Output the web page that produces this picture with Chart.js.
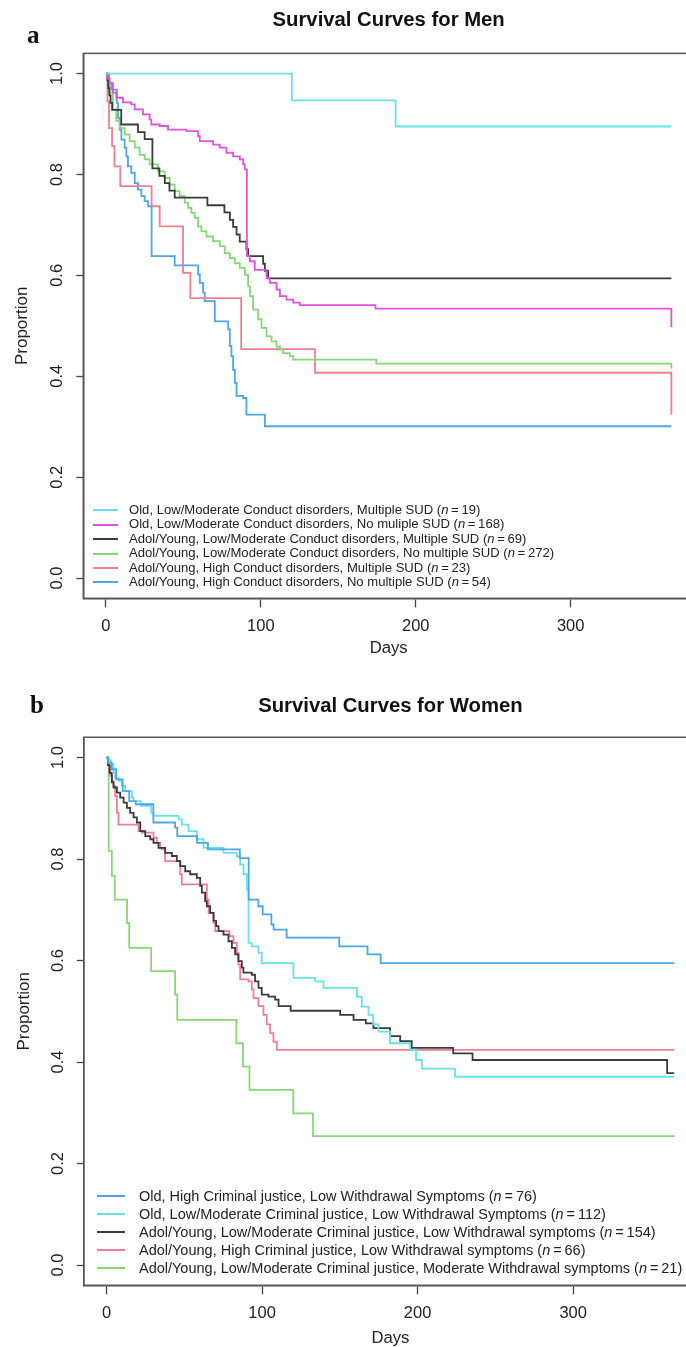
<!DOCTYPE html>
<html>
<head>
<meta charset="utf-8">
<script src="https://cdn.jsdelivr.net/npm/chart.js@4.4.1/dist/chart.umd.min.js"></script>
<style>
  html, body { margin: 0; padding: 0; background: #fff; }
  body { width: 686px; height: 1347px; overflow: hidden; position: relative; font-family: "Liberation Sans", Arial, sans-serif; }
  .panel { position: absolute; left: 0; width: 686px; overflow: hidden; }
  .panel canvas { display: block; }
  .tag { position: absolute; font-family: "Liberation Serif", "Times New Roman", serif; font-weight: bold; font-size: 25px; line-height: 25px; color: #111; }
  .legend { position: absolute; color: #222; white-space: nowrap; }
  .legend .row { display: flex; align-items: center; }
  .legend .key { display: inline-block; height: 0; border-top: 2px solid; flex: none; }
</style>
</head>
<body>
<div class="panel" style="top:0;height:672px"><canvas id="menChart" width="694" height="672"></canvas></div>
<div class="panel" style="top:680px;height:667px"><canvas id="womenChart" width="697" height="680"></canvas></div>
<div class="tag" style="left:27px;top:22px">a</div>
<div class="tag" style="left:30px;top:692px">b</div>
<div class="legend" id="menLegend" style="left:93px;top:503px;font-size:13.1px"></div>
<div class="legend" id="womenLegend" style="left:97px;top:1187px;font-size:14.5px"></div>
<script>
// ---- panel a : men ----
const menLabels = [
  'Old, Low/Moderate Conduct disorders, Multiple SUD',
  'Old, Low/Moderate Conduct disorders, No muliple SUD',
  'Adol/Young, Low/Moderate Conduct disorders, Multiple SUD',
  'Adol/Young, Low/Moderate Conduct disorders, No multiple SUD',
  'Adol/Young, High Conduct disorders, Multiple SUD',
  'Adol/Young, High Conduct disorders, No multiple SUD'
];
const menN = [19, 168, 69, 272, 23, 54];

const menOldMultiDays = [0, 120, 187, 365];
const menOldMultiSurv = [1, 0.947, 0.895, 0.895];

const menOldNoMultiDays = [0, 0.9, 2.4, 4.5, 6.7, 11, 16.4, 18.6, 23.9, 28.2, 29.3, 34.7, 40.1, 52, 59.5, 60.6, 69.2, 73.5, 77.8, 82.1, 86.4, 88.6, 89.6, 91, 92.9, 96.1, 103.7, 105.8, 110.1, 112.3, 116.6, 120.9, 125.2, 174, 365];
const menOldNoMultiSurv = [1, 0.99, 0.981, 0.962, 0.952, 0.943, 0.939, 0.929, 0.919, 0.909, 0.899, 0.896, 0.889, 0.886, 0.876, 0.866, 0.859, 0.853, 0.843, 0.836, 0.83, 0.82, 0.81, 0.638, 0.628, 0.611, 0.595, 0.585, 0.572, 0.559, 0.552, 0.546, 0.541, 0.534, 0.497];

const menYoungMultiDays = [0, 1, 1.5, 2.2, 3, 4, 9.9, 20.7, 25, 30, 34.5, 38, 41, 44.4, 65.5, 76.5, 80, 82.1, 84.3, 86.4, 90.7, 91.8, 101.5, 102.6, 104.7, 365];
const menYoungMultiSurv = [1, 0.986, 0.971, 0.957, 0.942, 0.928, 0.899, 0.884, 0.87, 0.812, 0.797, 0.783, 0.768, 0.754, 0.739, 0.725, 0.71, 0.696, 0.681, 0.667, 0.652, 0.638, 0.623, 0.609, 0.594, 0.594];

const menYoungNoMultiDays = [0, 0.9, 2.4, 4.5, 6.7, 8.9, 12.1, 15.3, 18.6, 21.8, 25, 28.2, 33.6, 37.9, 41.2, 44.4, 47.6, 50.9, 53, 55.2, 57.3, 59.5, 61.6, 64.9, 69.2, 73.5, 76.7, 80, 83.2, 86.4, 89.7, 91.8, 93, 95, 98.3, 100.4, 103.7, 106.9, 110.1, 112.3, 114.4, 118.7, 120.9, 174.5, 365];
const menYoungNoMultiSurv = [1, 0.985, 0.962, 0.929, 0.906, 0.892, 0.879, 0.866, 0.853, 0.839, 0.83, 0.82, 0.806, 0.793, 0.78, 0.767, 0.757, 0.744, 0.734, 0.724, 0.714, 0.697, 0.687, 0.677, 0.668, 0.658, 0.644, 0.634, 0.624, 0.615, 0.601, 0.578, 0.559, 0.532, 0.513, 0.496, 0.479, 0.469, 0.459, 0.453, 0.446, 0.44, 0.433, 0.425, 0.415];

const menHighMultiDays = [0, 1, 2, 4, 5.5, 9.3, 29.5, 34.7, 49.8, 54.5, 87.3, 135, 365];
const menHighMultiSurv = [1, 0.945, 0.892, 0.856, 0.816, 0.777, 0.737, 0.697, 0.605, 0.555, 0.454, 0.407, 0.324];

const menHighNoMultiDays = [0, 2, 3.5, 7.1, 7.8, 8.9, 10, 12.1, 13.2, 14.2, 16.4, 18.6, 20.7, 22.9, 25, 27.2, 29.5, 44.4, 59.5, 60.6, 62.7, 63.8, 70.3, 78.9, 80, 81, 82.1, 83.2, 84.3, 88.6, 90.7, 102.6, 365];
const menHighNoMultiSurv = [1, 0.981, 0.968, 0.942, 0.912, 0.889, 0.869, 0.853, 0.836, 0.816, 0.803, 0.783, 0.77, 0.757, 0.747, 0.737, 0.638, 0.62, 0.602, 0.585, 0.566, 0.549, 0.509, 0.493, 0.46, 0.44, 0.413, 0.387, 0.361, 0.357, 0.324, 0.301, 0.301];

const menDays = [menOldMultiDays, menOldNoMultiDays, menYoungMultiDays, menYoungNoMultiDays, menHighMultiDays, menHighNoMultiDays];
const menSurv = [menOldMultiSurv, menOldNoMultiSurv, menYoungMultiSurv, menYoungNoMultiSurv, menHighMultiSurv, menHighNoMultiSurv];

// ---- panel b : women ----
const womenLabels = [
  'Old, High Criminal justice, Low Withdrawal Symptoms',
  'Old, Low/Moderate Criminal justice, Low Withdrawal Symptoms',
  'Adol/Young, Low/Moderate Criminal justice, Low Withdrawal symptoms',
  'Adol/Young, High Criminal justice, Low Withdrawal symptoms',
  'Adol/Young, Low/Moderate Criminal justice, Moderate Withdrawal symptoms'
];
const womenN = [76, 112, 154, 66, 21];

const womenOldHighDays = [0, 1, 3.4, 6.2, 10.4, 14.6, 18.8, 30.1, 44.1, 45.5, 58.2, 65.2, 85.7, 91.4, 97.6, 100.4, 106, 107.4, 115.8, 149.6, 167.8, 176.3, 365];
const womenOldHighSurv = [1, 0.99, 0.977, 0.957, 0.934, 0.914, 0.908, 0.872, 0.862, 0.845, 0.832, 0.819, 0.802, 0.72, 0.707, 0.691, 0.671, 0.661, 0.645, 0.628, 0.612, 0.595, 0.595];

const womenOldLowDays = [0, 1, 2.8, 4.5, 5.6, 7.7, 9.9, 12, 16.3, 17.4, 22, 28.7, 30.2, 46.3, 48.4, 52.7, 58.1, 62.4, 75.2, 83.8, 85.9, 88.1, 90.2, 91.3, 93.4, 97.7, 99.8, 120.2, 134.1, 139.5, 161, 164.1, 168.4, 171.5, 174.8, 182.3, 195.2, 199, 202.7, 224, 365];
const womenOldLowSurv = [1, 0.995, 0.987, 0.97, 0.96, 0.954, 0.944, 0.934, 0.921, 0.914, 0.905, 0.891, 0.885, 0.878, 0.868, 0.855, 0.839, 0.822, 0.812, 0.805, 0.789, 0.77, 0.74, 0.635, 0.628, 0.615, 0.595, 0.566, 0.559, 0.546, 0.529, 0.509, 0.493, 0.474, 0.46, 0.437, 0.424, 0.404, 0.387, 0.371, 0.371];

const womenYoungLowDays = [0, 1, 1.95, 3.45, 4.5, 6.7, 8.8, 11, 13.1, 15.2, 17.4, 19.5, 21.7, 24.9, 28.1, 30.2, 33.4, 37.7, 42, 45.2, 47.4, 50.6, 53.8, 58.1, 60.2, 61.3, 63.4, 64.5, 66.6, 68.8, 70.5, 72, 75.2, 78.4, 80.6, 82.7, 84.8, 87, 88, 93.4, 95.5, 97.7, 99.8, 104.1, 108.4, 110.6, 118.4, 150.2, 158.8, 166.7, 171.6, 182.3, 188.8, 196.2, 222.9, 235.3, 360.4, 365];
const womenYoungLowSurv = [1, 0.985, 0.97, 0.951, 0.941, 0.931, 0.921, 0.911, 0.901, 0.891, 0.882, 0.872, 0.855, 0.845, 0.839, 0.832, 0.822, 0.812, 0.806, 0.796, 0.786, 0.776, 0.77, 0.763, 0.747, 0.734, 0.717, 0.707, 0.694, 0.678, 0.668, 0.658, 0.651, 0.638, 0.625, 0.612, 0.599, 0.586, 0.576, 0.572, 0.559, 0.546, 0.533, 0.529, 0.523, 0.51, 0.501, 0.493, 0.483, 0.476, 0.467, 0.451, 0.441, 0.428, 0.417, 0.404, 0.378, 0.378];

const womenYoungHighDays = [0, 1, 2.4, 3.5, 4.5, 5.6, 6.7, 7.7, 20.6, 22.7, 30.2, 32.4, 34.5, 35.6, 37.7, 47.4, 48.4, 64.5, 65.6, 68.8, 69.9, 79, 81.6, 83.8, 84.8, 85.9, 91.3, 93.4, 94.5, 97.7, 100.9, 103, 105.2, 107.3, 109.5, 365];
const womenYoungHighSurv = [1, 0.985, 0.964, 0.954, 0.944, 0.924, 0.891, 0.868, 0.855, 0.852, 0.842, 0.832, 0.822, 0.819, 0.796, 0.77, 0.75, 0.72, 0.694, 0.674, 0.658, 0.648, 0.635, 0.615, 0.592, 0.563, 0.559, 0.543, 0.526, 0.51, 0.493, 0.474, 0.457, 0.44, 0.424, 0.424];

const womenYoungModDays = [0, 1.4, 3.4, 5.3, 13.2, 14.6, 28.7, 44.1, 45.5, 83.5, 87.7, 91.9, 120.1, 132.7, 365];
const womenYoungModSurv = [1, 0.816, 0.767, 0.72, 0.674, 0.625, 0.579, 0.533, 0.483, 0.437, 0.391, 0.345, 0.299, 0.254, 0.254];

const womenDays = [womenOldHighDays, womenOldLowDays, womenYoungLowDays, womenYoungHighDays, womenYoungModDays];
const womenSurv = [womenOldHighSurv, womenOldLowSurv, womenYoungLowSurv, womenYoungHighSurv, womenYoungModSurv];

// axis ticks (R style, limits padded 4% past 0..365 and 0..1)
const dayTicks = [0, 100, 200, 300];
const propTicks = [0, 0.2, 0.4, 0.6, 0.8, 1.0];
const dayRange = [-14.6, 379.6];
const propRange = [-0.04, 1.04];

// ---- styles ----
const FONT = '"Liberation Sans", Arial, sans-serif';
const menColors = ['#66e3e8', '#e34fe0', '#3b3b3b', '#86d874', '#ef7f8c', '#4ba6ec'];
const womenColors = ['#4ba6ec', '#66e3e8', '#3b3b3b', '#ef7f8c', '#86d874'];

// box around the plot region, like R's bty="o"
const framePlugin = {
  id: 'frame',
  afterDatasetsDraw(chart) {
    const a = chart.chartArea, ctx = chart.ctx;
    ctx.save();
    ctx.strokeStyle = '#555';
    ctx.lineWidth = 1.5;
    ctx.strokeRect(a.left, a.top, a.right - a.left, a.bottom - a.top);
    ctx.restore();
  }
};

function buildChart(canvasId, title, labels, colors, days, surv, g) {
  const datasets = labels.map((label, i) => ({
    label: label,
    data: days[i].map((d, j) => ({ x: d, y: surv[i][j] })),
    borderColor: colors[i],
    borderWidth: 1.8,
    pointRadius: 0,
    stepped: 'before',   // horizontal first, then drop: a Kaplan-Meier step
    fill: false
  }));
  const tickFont = { family: FONT, size: 16.5 };
  return new Chart(document.getElementById(canvasId), {
    type: 'line',
    data: { datasets: datasets },
    options: {
      responsive: false,
      animation: false,
      events: [],
      layout: { padding: 0, autoPadding: false },
      plugins: {
        legend: { display: false },
        tooltip: { enabled: false },
        title: {
          display: true,
          text: title,
          fullSize: false,
          color: '#111',
          font: { family: FONT, size: 20.3, weight: 'bold', lineHeight: 1.2 },
          padding: { top: g.titleTop, bottom: g.titleBottom }
        }
      },
      scales: {
        x: {
          type: 'linear',
          min: dayRange[0],
          max: dayRange[1],
          afterBuildTicks(scale) { scale.ticks = dayTicks.map(v => ({ value: v })); },
          grid: { drawOnChartArea: false, drawTicks: true, tickLength: 9, tickColor: '#444', tickWidth: 1.3 },
          border: { display: true, color: '#555', width: 1.5 },
          ticks: { padding: 8.8, color: '#222', font: tickFont, maxRotation: 0, autoSkip: false, callback: v => String(v) },
          title: { display: true, text: 'Days', color: '#222', font: { family: FONT, size: 16.7, lineHeight: 1.2 }, padding: { top: 0, bottom: g.daysPad } },
          afterFit(scale) { scale.height = g.xHeight; }
        },
        y: {
          type: 'linear',
          min: propRange[0],
          max: propRange[1],
          afterBuildTicks(scale) { scale.ticks = propTicks.map(v => ({ value: v })); },
          grid: { drawOnChartArea: false, drawTicks: true, tickLength: 7, tickColor: '#444', tickWidth: 1.3 },
          border: { display: true, color: '#555', width: 1.5 },
          ticks: {
            minRotation: 90, maxRotation: 90, crossAlign: 'center', padding: 7.3,
            color: '#222', font: tickFont, autoSkip: false,
            callback: v => Number(v).toFixed(1)
          },
          title: { display: true, text: 'Proportion', color: '#222', font: { family: FONT, size: 17, lineHeight: 1.2 }, padding: { top: g.propPad, bottom: 0 } },
          afterFit(scale) { scale.width = g.left; }
        }
      }
    },
    plugins: [framePlugin]
  });
}

function buildLegend(id, labels, n, colors, rowH, keyW, gap) {
  const box = document.getElementById(id);
  labels.forEach((label, i) => {
    const row = document.createElement('div');
    row.className = 'row';
    row.style.height = rowH + 'px';
    row.style.lineHeight = rowH + 'px';
    const key = document.createElement('span');
    key.className = 'key';
    key.style.width = keyW + 'px';
    key.style.marginRight = gap + 'px';
    key.style.borderTopColor = colors[i];
    const txt = document.createElement('span');
    txt.innerHTML = label + ' (<i>n</i>\u2009=\u2009' + n[i] + ')';
    row.appendChild(key);
    row.appendChild(txt);
    box.appendChild(row);
  });
}

buildChart('menChart', 'Survival Curves for Men', menLabels, menColors, menDays, menSurv,
  { left: 83.3, titleTop: 8.5, titleBottom: 20.5, xHeight: 73.7, daysPad: 14, propPad: 12 });
buildChart('womenChart', 'Survival Curves for Women', womenLabels, womenColors, womenDays, womenSurv,
  { left: 83.8, titleTop: 14.5, titleBottom: 18.4, xHeight: 74.7, daysPad: 12, propPad: 14 });

buildLegend('menLegend', menLabels, menN, menColors, 14.45, 25, 11);
buildLegend('womenLegend', womenLabels, womenN, womenColors, 18.1, 27.7, 14.3);
</script>
</body>
</html>
